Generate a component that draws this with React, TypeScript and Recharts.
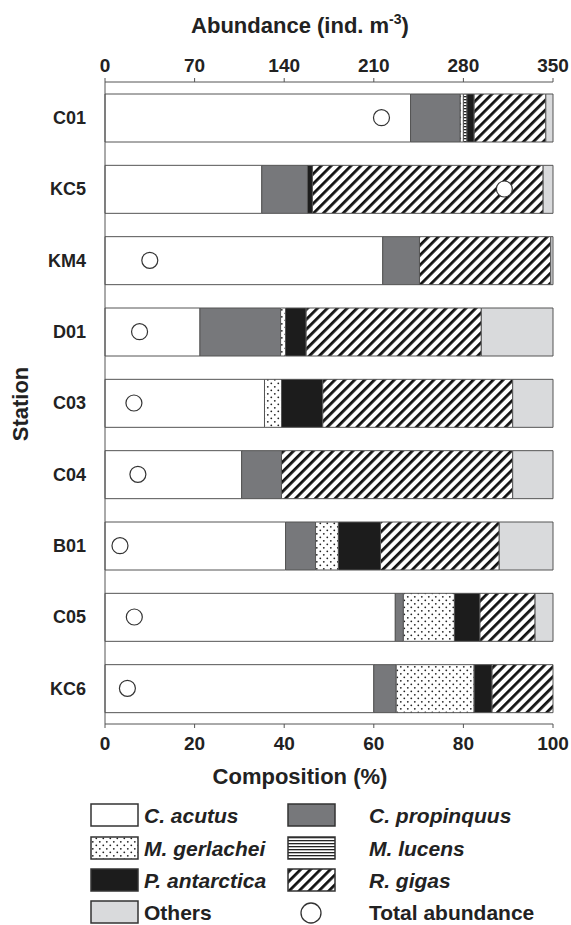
import { ComposedChart, Bar, Line, XAxis, YAxis } from 'recharts';

// stations, top to bottom
const stations = ['C01', 'KC5', 'KM4', 'D01', 'C03', 'C04', 'B01', 'C05', 'KC6'];

// composition (%) per taxon
const cAcutus = [68.2, 35.0, 62.0, 21.2, 35.6, 30.5, 40.3, 64.8, 60.0];
const cPropinquus = [11.1, 10.2, 8.2, 18.0, 0, 8.9, 6.7, 1.8, 5.0];
const mGerlachei = [0.7, 0, 0, 1.1, 3.8, 0, 5.1, 11.4, 17.4];
const mLucens = [0.8, 0, 0, 0, 0, 0, 0, 0, 0];
const pAntarctica = [1.6, 1.1, 0, 4.6, 9.2, 0, 9.4, 5.7, 4.0];
const rGigas = [16.0, 51.5, 29.3, 39.1, 42.4, 51.6, 26.5, 12.3, 13.6];
const others = [1.6, 2.2, 0.5, 16.0, 9.0, 9.0, 12.0, 4.0, 0];

// total abundance (ind. m-3)
const totalAbundance = [216, 312, 35, 27, 22.6, 25.7, 11.7, 22.9, 17.5];

const pctTicks = [0, 20, 40, 60, 80, 100];
const abundanceTicks = [0, 70, 140, 210, 280, 350];
const edgeTicks = [1, 2, 3, 4, 5, 6, 7, 8];

const data = stations.map((station, i) => ({
  station,
  acutus: cAcutus[i],
  propinquus: cPropinquus[i],
  gerlachei: mGerlachei[i],
  lucens: mLucens[i],
  antarctica: pAntarctica[i],
  gigas: rGigas[i],
  others: others[i],
  total: totalAbundance[i],
}));

const series = [
  { key: 'acutus', name: 'C. acutus', fill: '#ffffff', italic: true },
  { key: 'propinquus', name: 'C. propinquus', fill: '#77787b', italic: true },
  { key: 'gerlachei', name: 'M. gerlachei', fill: 'url(#pat-dots)', italic: true },
  { key: 'lucens', name: 'M. lucens', fill: 'url(#pat-hlines)', italic: true },
  { key: 'antarctica', name: 'P. antarctica', fill: '#1c1c1c', italic: true },
  { key: 'gigas', name: 'R. gigas', fill: 'url(#pat-diag)', italic: true },
  { key: 'others', name: 'Others', fill: '#d9dadc', italic: false },
];

const FONT = '"Liberation Sans", Arial, sans-serif';
const INK = '#222';
const AXIS = '#555';

const tickStyle = { fontFamily: FONT, fontWeight: 700, fontSize: 19, fill: INK };

function Patterns() {
  return (
    <svg width={0} height={0} style={{ position: 'absolute' }}>
      <defs>
        <pattern id="pat-dots" width="7" height="7" patternUnits="userSpaceOnUse">
          <rect width="7" height="7" fill="#fff" />
          <circle cx="1.8" cy="1.8" r="0.9" fill="#222" />
          <circle cx="5.3" cy="5.3" r="0.9" fill="#222" />
        </pattern>
        <pattern id="pat-hlines" width="4" height="3" patternUnits="userSpaceOnUse">
          <rect width="4" height="3" fill="#fff" />
          <rect y="0" width="4" height="1.3" fill="#222" />
        </pattern>
        <pattern
          id="pat-diag"
          width="7"
          height="7"
          patternUnits="userSpaceOnUse"
          patternTransform="rotate(45)"
        >
          <rect width="7" height="7" fill="#fff" />
          <rect width="2.8" height="7" fill="#111" />
        </pattern>
      </defs>
    </svg>
  );
}

const topTitle = () => (
  <text x={300} y={33} textAnchor="middle" fontFamily={FONT} fontWeight={700} fontSize={22} fill={INK}>
    Abundance (ind. m
    <tspan fontSize={14} dy={-9}>-3</tspan>
    <tspan dy={9}>)</tspan>
  </text>
);

const bottomTitle = () => (
  <text x={300} y={784} textAnchor="middle" fontFamily={FONT} fontWeight={700} fontSize={22} fill={INK}>
    Composition (%)
  </text>
);

const sideTitle = () => (
  <text
    x={0}
    y={0}
    transform="translate(28 404) rotate(-90)"
    textAnchor="middle"
    fontFamily={FONT}
    fontWeight={700}
    fontSize={22}
    fill={INK}
  >
    Station
  </text>
);

function LegendBlock() {
  const rows = [815, 848, 880, 912];
  const items = [
    { s: series[0], col: 0, row: 0 },
    { s: series[1], col: 1, row: 0 },
    { s: series[2], col: 0, row: 1 },
    { s: series[3], col: 1, row: 1 },
    { s: series[4], col: 0, row: 2 },
    { s: series[5], col: 1, row: 2 },
    { s: series[6], col: 0, row: 3 },
  ];
  return (
    <svg width={571} height={925} style={{ position: 'absolute', left: 0, top: 0, pointerEvents: 'none' }}>
      {items.map(({ s, col, row }) => {
        const cy = rows[row];
        const sx = col === 0 ? 91 : 288;
        const tx = col === 0 ? 144 : 369;
        return (
          <g key={s.key}>
            <rect x={sx} y={cy - 11} width={47} height={22} fill={s.fill} stroke="#333" strokeWidth={1.5} />
            <text
              x={tx}
              y={cy + 7.5}
              fontFamily={FONT}
              fontWeight={700}
              fontStyle={s.italic ? 'italic' : 'normal'}
              fontSize={21}
              fill={INK}
            >
              {s.name}
            </text>
          </g>
        );
      })}
      <circle cx={311} cy={rows[3] + 1} r={10} fill="#fff" stroke="#333" strokeWidth={1.3} />
      <text x={369} y={rows[3] + 7.5} fontFamily={FONT} fontWeight={700} fontSize={21} fill={INK}>
        Total abundance
      </text>
    </svg>
  );
}

export default function App() {
  return (
    <div style={{ position: 'absolute', left: 0, top: 0, width: 571, height: 925, background: '#fff' }}>
      <Patterns />
      <ComposedChart
        width={571}
        height={925}
        data={data}
        layout="vertical"
        margin={{ top: 0, right: 18, bottom: 131, left: 0 }}
      >
        <XAxis
          xAxisId="pct"
          type="number"
          domain={[0, 100]}
          ticks={pctTicks}
          height={70}
          stroke={AXIS}
          tickSize={4}
          tickMargin={9}
          tick={tickStyle}
          label={bottomTitle}
        />
        <XAxis
          xAxisId="top"
          orientation="top"
          type="number"
          domain={[0, 350]}
          ticks={abundanceTicks}
          height={82}
          stroke={AXIS}
          tickSize={4}
          tickMargin={6}
          tick={tickStyle}
          label={topTitle}
        />
        <YAxis
          yAxisId="edges"
          type="number"
          domain={[0, 9]}
          ticks={edgeTicks}
          allowDataOverflow
          width={0}
          axisLine={false}
          tickSize={4}
          stroke={AXIS}
          tickFormatter={() => ''}
        />
        <YAxis
          yAxisId="cat"
          type="category"
          dataKey="station"
          width={105}
          stroke={AXIS}
          tickLine={false}
          tickSize={6}
          tickMargin={13}
          tick={{ ...tickStyle, fontSize: 18 }}
          label={sideTitle}
        />
        {series.map((s) => (
          <Bar
            key={s.key}
            xAxisId="pct"
            yAxisId="cat"
            dataKey={s.key}
            name={s.name}
            stackId="comp"
            fill={s.fill}
            stroke={AXIS}
            strokeWidth={1}
            barSize={48}
            isAnimationActive={false}
          />
        ))}
        <Line
          xAxisId="top"
          yAxisId="cat"
          dataKey="total"
          stroke="none"
          dot={{ r: 8, fill: '#fff', stroke: '#333', strokeWidth: 1.2 }}
          activeDot={false}
          isAnimationActive={false}
        />
      </ComposedChart>
      <LegendBlock />
    </div>
  );
}
